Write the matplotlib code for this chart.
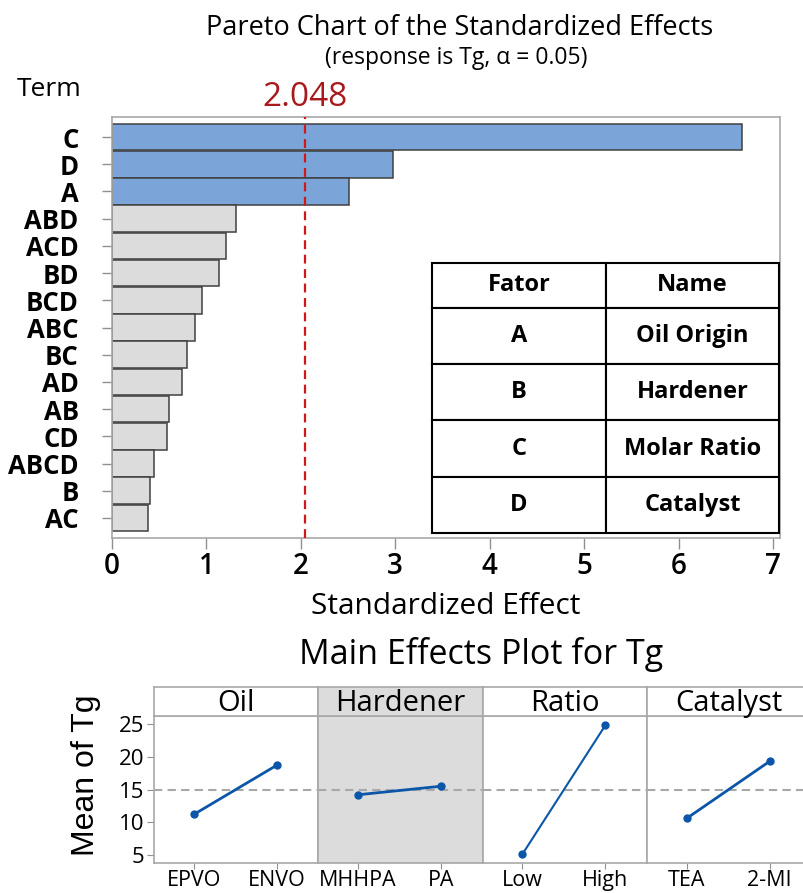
import matplotlib
matplotlib.use("Agg")
import matplotlib.pyplot as plt
import numpy as np

plt.rcParams['font.family'] = ['Open Sans', 'DejaVu Sans']

# ---------------- data ----------------
terms = ["C", "D", "A", "ABD", "ACD", "BD", "BCD", "ABC", "BC", "AD", "AB", "CD", "ABCD", "B", "AC"]
effects = [6.67, 2.98, 2.51, 1.31, 1.21, 1.13, 0.95, 0.88, 0.79, 0.74, 0.60, 0.58, 0.44, 0.40, 0.38]
critical = 2.048
xticks_pareto = [0, 1, 2, 3, 4, 5, 6, 7]

table_header = ["Fator", "Name"]
table_factor = ["A", "B", "C", "D"]
table_name = ["Oil Origin", "Hardener", "Molar Ratio", "Catalyst"]

panel_titles = ["Oil", "Hardener", "Ratio", "Catalyst"]
panel_levels = [["EPVO", "ENVO"], ["MHHPA", "PA"], ["Low", "High"], ["TEA", "2-MI"]]
panel_means = [[11.2, 18.7], [14.2, 15.5], [5.15, 24.8], [10.6, 19.3]]
grand_mean = 14.95
yticks_main = [5, 10, 15, 20, 25]

# ---------------- figure ----------------
W, H = 804, 893
fig = plt.figure(figsize=(W / 100, H / 100), dpi=100)


def rect(x0, y0, x1, y1):
    return [x0 / W, 1 - y1 / H, (x1 - x0) / W, (y1 - y0) / H]


# ---------------- Pareto chart ----------------
ax = fig.add_axes(rect(112, 117, 780, 538))
n = len(terms)
ypos = np.arange(n)[::-1]
sig_col = "#7ba4d8"
ns_col = "#dcdcdc"
colors = [sig_col if e > critical else ns_col for e in effects]
ax.barh(ypos, effects, height=0.98, color=colors, edgecolor="#404040", linewidth=1.1, zorder=2)
ax.axvline(critical, color="#d01818", linestyle=(0, (4, 2.5)), linewidth=1.6, zorder=3)
ax.set_xlim(0, 7.074)
ax.set_ylim(-0.735, n - 1 + 0.735)
ax.set_yticks(ypos)
ax.set_yticklabels(terms, fontsize=18.5, fontweight="bold")
ax.set_xticks(xticks_pareto)
ax.set_xticklabels([str(t) for t in xticks_pareto], fontsize=20, fontweight="semibold")
for s in ax.spines.values():
    s.set_color("#a8a8a8")
    s.set_linewidth(1.2)
ax.tick_params(axis="y", length=7, width=1, color="#909090", pad=17)
ax.tick_params(axis="x", length=8, width=1, color="#909090", pad=2)
ax.set_xlabel("Standardized Effect", fontsize=21.5, labelpad=8)

fig.text(460 / W, 1 - 28 / H, "Pareto Chart of the Standardized Effects", ha="center", va="center", fontsize=19.5)
fig.text(456 / W, 1 - 58 / H, "(response is Tg, α = 0.05)", ha="center", va="center", fontsize=16.5)
fig.text(49 / W, 1 - 90 / H, "Term", ha="center", va="center", fontsize=19)
ax.text(critical, 1.006, f"{critical:.3f}", transform=ax.get_xaxis_transform(), ha="center",
        va="bottom", fontsize=24, color="#a8191c")

# table
cell_text = [[f, nme] for f, nme in zip(table_factor, table_name)]
tab = ax.table(cellText=cell_text, colLabels=table_header, cellLoc="center",
               bbox=[(432 - 112) / 668, (538 - 533) / 421, (779 - 432) / 668, (533 - 263) / 421], zorder=5)
tab.auto_set_font_size(False)
for (r, c), cell in tab.get_celld().items():
    cell.set_edgecolor("black")
    cell.set_linewidth(1.5)
    cell.set_facecolor("white")
    cell.set_height(45 if r == 0 else 56.5)
    cell.set_width(174 if c == 0 else 173)
    cell.get_text().set_fontsize(17)
    cell.get_text().set_fontweight("bold")

# ---------------- Main effects plot ----------------
fig.text(481 / W, 1 - 655 / H, "Main Effects Plot for Tg", ha="center", va="center", fontsize=24.5)
fig.text(86 / W, 1 - 775 / H, "Mean of Tg", ha="center", va="center", rotation=90, fontsize=23,
         family=["Liberation Sans", "DejaVu Sans"])

x_left = 154
pw = 164.3
line_col = "#0b56a8"
border = "#a8a8a8"
for i, (title, levels, means) in enumerate(zip(panel_titles, panel_levels, panel_means)):
    x0 = x_left + i * pw
    x1 = x0 + pw
    face = "#dcdcdc" if i == 1 else "white"
    pax = fig.add_axes(rect(x0, 716, x1, 863))
    pax.set_facecolor(face)
    pax.axhline(grand_mean, color="#a8a8a8", linestyle=(0, (4, 2.5)), linewidth=1.5, zorder=1)
    pax.plot([0, 1], means, color=line_col, linewidth=2 if i != 2 else 1.5, marker="o",
             markersize=5, zorder=3)
    pax.set_xlim(-0.48, 1.5)
    pax.set_ylim(3.8, 26.2)
    pax.set_xticks([0, 1])
    pax.set_xticklabels(levels, fontsize=15.5)
    pax.tick_params(axis="x", length=4.5, color="#909090", pad=0.5)
    if i == 0:
        pax.set_yticks(yticks_main)
        pax.set_yticklabels([str(t) for t in yticks_main], fontsize=16)
        pax.tick_params(axis="y", length=5, color="#909090", pad=2)
    else:
        pax.set_yticks([])
    for s in pax.spines.values():
        s.set_color(border)
        s.set_linewidth(1.2)

    sax = fig.add_axes(rect(x0, 687, x1, 716))
    sax.set_facecolor(face)
    sax.set_xticks([])
    sax.set_yticks([])
    for s in sax.spines.values():
        s.set_color(border)
        s.set_linewidth(1.2)
    sax.text(0.5, 0.42, title, transform=sax.transAxes, ha="center", va="center", fontsize=21)

fig.savefig("out.png", dpi=100)
